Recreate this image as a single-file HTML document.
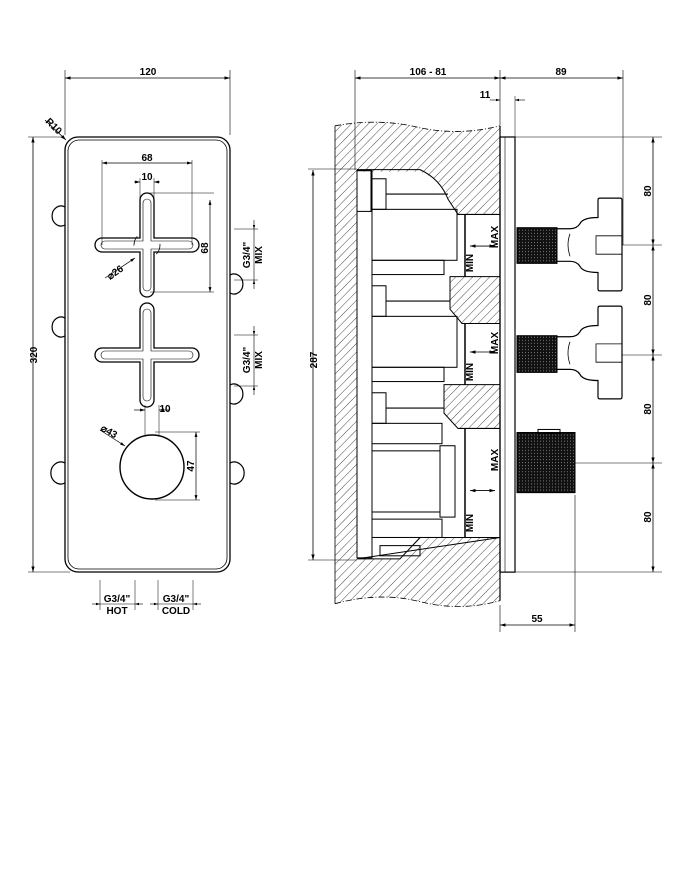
<!DOCTYPE html>
<html><head><meta charset="utf-8"><style>
html,body{margin:0;padding:0;background:#fff}
svg{display:block}
text{font-family:"Liberation Sans",sans-serif;font-weight:bold;font-size:10px;fill:#000}
</style></head><body>
<svg width="681" height="869" viewBox="0 0 681 869" xmlns="http://www.w3.org/2000/svg">
<defs>
<pattern id="h" width="6" height="6" patternUnits="userSpaceOnUse" patternTransform="rotate(45)">
<line x1="0" y1="0" x2="0" y2="6" stroke="#000" stroke-width="0.7"/>
</pattern>
<marker id="a" viewBox="0 0 10 10" refX="10" refY="5" markerWidth="7" markerHeight="7" orient="auto-start-reverse"><path d="M0,2 L10,5 L0,8z" fill="#000"/></marker>
<pattern id="k" width="3" height="3" patternUnits="userSpaceOnUse"><rect width="3" height="3" fill="#111"/><rect width="1" height="1" fill="#777"/></pattern>
</defs>
<g fill="none" stroke="#000" stroke-width="1">
<!-- LEFT VIEW -->
<line x1="65" y1="78" x2="230" y2="78" marker-start="url(#a)" marker-end="url(#a)" stroke-width="0.8"/>
<line x1="65" y1="70" x2="65" y2="135" stroke-width="0.6"/>
<line x1="230" y1="70" x2="230" y2="135" stroke-width="0.6"/>
<line x1="45" y1="120" x2="66" y2="140" marker-end="url(#a)" stroke-width="0.8"/>
<rect x="65" y="137" width="165" height="435" rx="13" stroke-width="1.3"/>
<rect x="68" y="140" width="159" height="429" rx="11" stroke-width="0.8"/>
<line x1="33" y1="137" x2="33" y2="572" marker-start="url(#a)" marker-end="url(#a)" stroke-width="0.8"/>
<line x1="28" y1="137" x2="62" y2="137" stroke-width="0.6"/>
<line x1="28" y1="572" x2="70" y2="572" stroke-width="0.6"/>
<path d="M65,207 a9,10 0 1 0 0,18" stroke-width="1.2"/>
<path d="M65,318 a9,10 0 1 0 0,18" stroke-width="1.2"/>
<path d="M65,463 a10,11 0 1 0 0,20" stroke-width="1.2"/>
<path d="M230,275 a9,10 0 1 1 0,18" stroke-width="1.2"/>
<path d="M230,385 a9,10 0 1 1 0,18" stroke-width="1.2"/>
<path d="M230,463 a10,11 0 1 1 0,20" stroke-width="1.2"/>
<g stroke-width="1.3">
<path d="M140,200 a7,7 0 0 1 14,0 v38 h38 a7,7 0 0 1 0,14 h-38 v38 a7,7 0 0 1 -14,0 v-38 h-38 a7,7 0 0 1 0,-14 h38z"/>
<path d="M140,310 a7,7 0 0 1 14,0 v38 h38 a7,7 0 0 1 0,14 h-38 v38 a7,7 0 0 1 -14,0 v-38 h-38 a7,7 0 0 1 0,-14 h38z"/>
</g>
<path d="M143,203 a4,4 0 0 1 8,0 v38 h38 a4,4 0 0 1 0,8 h-38 v38 a4,4 0 0 1 -8,0 v-38 h-38 a4,4 0 0 1 0,-8 h38z" stroke-width="0.6"/>
<path d="M143,313 a4,4 0 0 1 8,0 v38 h38 a4,4 0 0 1 0,8 h-38 v38 a4,4 0 0 1 -8,0 v-38 h-38 a4,4 0 0 1 0,-8 h38z" stroke-width="0.6"/>
<circle cx="147" cy="245" r="13" stroke-width="0.8" stroke-dasharray="10 30"/>
<line x1="102" y1="163" x2="192" y2="163" marker-start="url(#a)" marker-end="url(#a)" stroke-width="0.7"/>
<line x1="102" y1="160" x2="102" y2="245" stroke-width="0.5"/>
<line x1="192" y1="160" x2="192" y2="245" stroke-width="0.5"/>
<line x1="134" y1="182" x2="140" y2="182" marker-end="url(#a)" stroke-width="0.7"/>
<line x1="160" y1="182" x2="154" y2="182" marker-end="url(#a)" stroke-width="0.7"/>
<line x1="140" y1="178" x2="140" y2="200" stroke-width="0.5"/>
<line x1="154" y1="178" x2="154" y2="200" stroke-width="0.5"/>
<line x1="210" y1="200" x2="210" y2="292" marker-start="url(#a)" marker-end="url(#a)" stroke-width="0.7"/>
<line x1="150" y1="193" x2="214" y2="193" stroke-width="0.5"/>
<line x1="150" y1="292" x2="214" y2="292" stroke-width="0.5"/>
<line x1="105" y1="278" x2="135" y2="258" marker-end="url(#a)" stroke-width="0.7"/>
<circle cx="152" cy="467" r="32" stroke-width="1.4"/>
<line x1="134" y1="410" x2="145" y2="410" marker-end="url(#a)" stroke-width="0.7"/>
<line x1="170" y1="410" x2="159" y2="410" marker-end="url(#a)" stroke-width="0.7"/>
<line x1="145" y1="405" x2="145" y2="436" stroke-width="0.5"/>
<line x1="159" y1="405" x2="159" y2="436" stroke-width="0.5"/>
<line x1="196" y1="432" x2="196" y2="500" marker-start="url(#a)" marker-end="url(#a)" stroke-width="0.7"/>
<line x1="155" y1="432" x2="200" y2="432" stroke-width="0.5"/>
<line x1="155" y1="500" x2="200" y2="500" stroke-width="0.5"/>
<line x1="100" y1="430" x2="125" y2="446" marker-end="url(#a)" stroke-width="0.7"/>
<line x1="234" y1="229" x2="258" y2="229" stroke-width="0.5"/>
<line x1="234" y1="280" x2="258" y2="280" stroke-width="0.5"/>
<line x1="254" y1="220" x2="254" y2="229" marker-end="url(#a)" stroke-width="0.6"/>
<line x1="254" y1="289" x2="254" y2="280" marker-end="url(#a)" stroke-width="0.6"/>
<line x1="254" y1="229" x2="254" y2="280" stroke-width="0.6"/>
<line x1="234" y1="335" x2="258" y2="335" stroke-width="0.5"/>
<line x1="234" y1="386" x2="258" y2="386" stroke-width="0.5"/>
<line x1="254" y1="326" x2="254" y2="335" marker-end="url(#a)" stroke-width="0.6"/>
<line x1="254" y1="395" x2="254" y2="386" marker-end="url(#a)" stroke-width="0.6"/>
<line x1="254" y1="335" x2="254" y2="386" stroke-width="0.6"/>
<line x1="100" y1="580" x2="100" y2="610" stroke-width="0.5"/>
<line x1="135" y1="580" x2="135" y2="610" stroke-width="0.5"/>
<line x1="158" y1="580" x2="158" y2="610" stroke-width="0.5"/>
<line x1="193" y1="580" x2="193" y2="610" stroke-width="0.5"/>
<line x1="92" y1="604" x2="100" y2="604" marker-end="url(#a)" stroke-width="0.6"/>
<line x1="100" y1="604" x2="135" y2="604" stroke-width="0.6"/>
<line x1="143" y1="604" x2="135" y2="604" marker-end="url(#a)" stroke-width="0.6"/>
<line x1="150" y1="604" x2="158" y2="604" marker-end="url(#a)" stroke-width="0.6"/>
<line x1="158" y1="604" x2="193" y2="604" stroke-width="0.6"/>
<line x1="201" y1="604" x2="193" y2="604" marker-end="url(#a)" stroke-width="0.6"/>

<!-- RIGHT VIEW -->
<line x1="355" y1="78" x2="500" y2="78" marker-start="url(#a)" marker-end="url(#a)" stroke-width="0.8"/>
<line x1="500" y1="78" x2="623" y2="78" marker-start="url(#a)" marker-end="url(#a)" stroke-width="0.8"/>
<line x1="355" y1="70" x2="355" y2="170" stroke-width="0.6"/>
<line x1="500" y1="70" x2="500" y2="125" stroke-width="0.6"/>
<line x1="623" y1="70" x2="623" y2="245" stroke-width="0.6"/>
<line x1="490" y1="100" x2="500" y2="100" marker-end="url(#a)" stroke-width="0.6"/>
<line x1="525" y1="100" x2="515" y2="100" marker-end="url(#a)" stroke-width="0.6"/>
<line x1="515" y1="96" x2="515" y2="137" stroke-width="0.5"/>
<g transform="translate(0,137) scale(1,1.019) translate(0,-137)">
<path d="M335,126 Q380,118 420,128 Q460,136 500,126 V564 V592 Q460,603 420,593 Q380,583 335,595 Z M357,169 V551 H400 L420,530 H500 V423 H458 L444,408 V380 H500 V320 H462 L450,306 V274 H500 V213 H458 L448,198 Q440,178 420,171 H357Z" fill="url(#h)" fill-rule="evenodd" stroke="none"/>
<path d="M335,126 Q380,118 420,128 Q460,136 500,126" stroke-width="0.8" stroke-dasharray="6 2 1 2"/>
<path d="M335,595 Q380,583 420,593 Q460,603 500,592" stroke-width="0.8" stroke-dasharray="6 2 1 2"/>
<line x1="335" y1="126" x2="335" y2="595" stroke-width="0.8"/>
<line x1="500" y1="126" x2="500" y2="592" stroke-width="1.2"/>
<path d="M357,169 H420 Q440,178 448,198 L458,213 H500 M500,274 H450 V306 L462,320 H500 M500,380 H444 V408 L458,423 H500 M500,530 H420 L400,551 H357 Z" stroke-width="1"/>
<g stroke-width="1">
<rect x="357" y="170" width="15" height="380"/>
<rect x="357" y="170" width="14" height="40"/>
<rect x="372" y="178" width="14" height="30"/>
<rect x="372" y="208" width="85" height="50"/>
<rect x="372" y="258" width="72" height="14"/>
<rect x="372" y="283" width="14" height="30"/>
<rect x="372" y="313" width="85" height="50"/>
<rect x="372" y="363" width="72" height="14"/>
<rect x="372" y="388" width="14" height="30"/>
<rect x="372" y="418" width="70" height="20"/>
<rect x="372" y="445" width="68" height="60"/>
<rect x="440" y="440" width="15" height="70"/>
<rect x="372" y="512" width="70" height="18"/>
<line x1="386" y1="193" x2="448" y2="193"/>
<line x1="386" y1="298" x2="450" y2="298"/>
<line x1="386" y1="403" x2="444" y2="403"/>
<line x1="465" y1="213" x2="465" y2="274" stroke-width="1.5"/>
<line x1="465" y1="320" x2="465" y2="380" stroke-width="1.5"/>
<line x1="465" y1="423" x2="465" y2="530" stroke-width="1.5"/>
<rect x="380" y="538" width="40" height="10"/>
</g>
<g stroke-width="0.8">
<line x1="470" y1="244" x2="495" y2="244" marker-start="url(#a)" marker-end="url(#a)"/>
<line x1="470" y1="348" x2="495" y2="348" marker-start="url(#a)" marker-end="url(#a)"/>
<line x1="470" y1="484" x2="495" y2="484" marker-start="url(#a)" marker-end="url(#a)"/>
</g>
<rect x="500" y="137" width="15" height="427" stroke-width="1.2"/>
<line x1="505" y1="137" x2="505" y2="564" stroke-width="0.6"/>
<rect x="517" y="226" width="40" height="35" fill="url(#k)"/>
<rect x="517" y="332" width="40" height="36" fill="url(#k)"/>
<rect x="517" y="427" width="58" height="59" fill="url(#k)"/>
<rect x="538" y="424" width="22" height="4"/>
<g stroke-width="1.2">
<path d="M557,227 H570 Q577,227 580,222 Q583,216 598,216 V199 Q598,197 600,197 H620 Q622,197 622,199 V286 Q622,288 620,288 H600 Q598,288 598,286 V270 Q583,270 580,264 Q577,259 570,259 H557"/>
<path d="M557,333 H570 Q577,333 580,328 Q583,322 598,322 V305 Q598,303 600,303 H620 Q622,303 622,305 V392 Q622,394 620,394 H600 Q598,394 598,392 V376 Q583,376 580,370 Q577,365 570,365 H557"/>
</g>
<path d="M570,232 Q566,243 570,254 M596,234 H622 V252 H596 Z" stroke-width="0.8"/>
<path d="M570,338 Q566,349 570,360 M596,340 H622 V358 H596 Z" stroke-width="0.8"/>
</g>
<line x1="313" y1="170" x2="313" y2="560" marker-start="url(#a)" marker-end="url(#a)" stroke-width="0.8"/>
<line x1="308" y1="169" x2="357" y2="169" stroke-width="0.6"/>
<line x1="308" y1="560" x2="357" y2="560" stroke-width="0.6"/>
<line x1="515" y1="137" x2="662" y2="137" stroke-width="0.6"/>
<line x1="515" y1="572" x2="662" y2="572" stroke-width="0.6"/>
<line x1="622" y1="245" x2="662" y2="245" stroke-width="0.6"/>
<line x1="622" y1="355" x2="662" y2="355" stroke-width="0.6"/>
<line x1="575" y1="463" x2="662" y2="463" stroke-width="0.6"/>
<g stroke-width="0.8">
<line x1="653" y1="137" x2="653" y2="245" marker-start="url(#a)" marker-end="url(#a)"/>
<line x1="653" y1="245" x2="653" y2="355" marker-start="url(#a)" marker-end="url(#a)"/>
<line x1="653" y1="355" x2="653" y2="463" marker-start="url(#a)" marker-end="url(#a)"/>
<line x1="653" y1="463" x2="653" y2="572" marker-start="url(#a)" marker-end="url(#a)"/>
<line x1="500" y1="625" x2="575" y2="625" marker-start="url(#a)" marker-end="url(#a)"/>
</g>
<line x1="500" y1="605" x2="500" y2="632" stroke-width="0.6"/>
<line x1="575" y1="495" x2="575" y2="632" stroke-width="0.6"/>
</g>
<!-- TEXT -->
<text x="148" y="75" text-anchor="middle">120</text>
<text transform="translate(45,122) rotate(45)" font-size="9">R10</text>
<text transform="translate(37,355) rotate(-90)" text-anchor="middle">320</text>
<text x="147" y="161" text-anchor="middle" font-size="9">68</text>
<text x="147" y="180" text-anchor="middle" font-size="9">10</text>
<text transform="translate(208,248) rotate(-90)" text-anchor="middle" font-size="9">68</text>
<text transform="translate(110,280) rotate(-35)" font-size="9">⌀26</text>
<text x="165" y="412" text-anchor="middle" font-size="9">10</text>
<text transform="translate(194,466) rotate(-90)" text-anchor="middle" font-size="9">47</text>
<text transform="translate(100,430) rotate(30)" font-size="9">⌀43</text>
<text transform="translate(250,255) rotate(-90)" text-anchor="middle" font-size="9">G3/4"</text>
<text transform="translate(262,255) rotate(-90)" text-anchor="middle" font-size="9">MIX</text>
<text transform="translate(250,360) rotate(-90)" text-anchor="middle" font-size="9">G3/4"</text>
<text transform="translate(262,360) rotate(-90)" text-anchor="middle" font-size="9">MIX</text>
<text x="117" y="602" text-anchor="middle" font-size="9">G3/4"</text>
<text x="117" y="614" text-anchor="middle" font-size="9">HOT</text>
<text x="176" y="602" text-anchor="middle" font-size="9">G3/4"</text>
<text x="176" y="614" text-anchor="middle" font-size="9">COLD</text>
<text x="428" y="75" text-anchor="middle" font-size="9">106 - 81</text>
<text x="561" y="75" text-anchor="middle" font-size="9">89</text>
<text x="485" y="98" text-anchor="middle" font-size="8">11</text>
<text transform="translate(317,360) rotate(-90)" text-anchor="middle">287</text>
<text transform="translate(498,237) rotate(-90)" text-anchor="middle" font-size="9">MAX</text>
<text transform="translate(473,263) rotate(-90)" text-anchor="middle" font-size="9">MIN</text>
<text transform="translate(498,343) rotate(-90)" text-anchor="middle" font-size="9">MAX</text>
<text transform="translate(473,372) rotate(-90)" text-anchor="middle" font-size="9">MIN</text>
<text transform="translate(498,460) rotate(-90)" text-anchor="middle" font-size="9">MAX</text>
<text transform="translate(473,523) rotate(-90)" text-anchor="middle" font-size="9">MIN</text>
<text transform="translate(651,191) rotate(-90)" text-anchor="middle" font-size="9">80</text>
<text transform="translate(651,300) rotate(-90)" text-anchor="middle" font-size="9">80</text>
<text transform="translate(651,409) rotate(-90)" text-anchor="middle" font-size="9">80</text>
<text transform="translate(651,517) rotate(-90)" text-anchor="middle" font-size="9">80</text>
<text x="537" y="622" text-anchor="middle" font-size="9">55</text>
</svg>
</body></html>
